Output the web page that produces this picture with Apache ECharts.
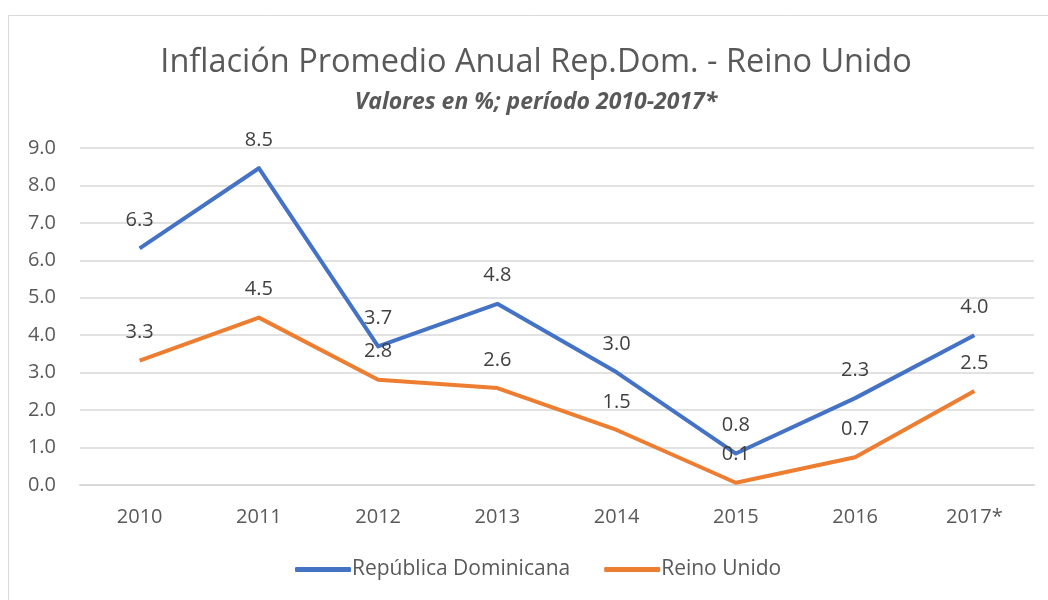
<!doctype html>
<html>
<head>
    <meta charset="utf-8">
    <title>Inflación Promedio Anual</title>
    <script src="https://cdn.jsdelivr.net/npm/echarts@6/dist/echarts.min.js"></script>
</head>
<style>
    html, body { margin: 0; padding: 0; background: #fff; }
    #chart { width: 1048px; height: 600px; }
</style>
<body>
<div id="chart"></div>
<script>
  var years = ['2010', '2011', '2012', '2013', '2014', '2015', '2016', '2017*'];
  var repDom = [6.32, 8.46, 3.70, 4.84, 3.01, 0.84, 2.32, 4.00];
  var reinoUnido = [3.32, 4.47, 2.81, 2.59, 1.47, 0.06, 0.74, 2.51];
  var seriesNames = ['República Dominicana', 'Reino Unido'];

  var font = '"Open Sans", "Noto Sans", sans-serif';
  var myChart = echarts.init(document.getElementById('chart'));

  function lineSeries(name, data, color) {
    return {
      name: name,
      type: 'line',
      data: data,
      symbol: 'circle',
      symbolSize: 0,
      showSymbol: true,
      lineStyle: { width: 4, color: color, join: 'round' },
      itemStyle: { color: color },
      label: {
        show: true,
        position: 'top',
        distance: 18,
        color: '#404040',
        fontSize: 20,
        fontFamily: font,
        formatter: function (p) { return p.value.toFixed(1); }
      }
    };
  }

  myChart.setOption({
    animation: false,
    graphic: [{
      type: 'rect',
      shape: { x: 8.5, y: 15.5, width: 1060, height: 620 },
      style: { fill: 'none', stroke: '#d9d9d9', lineWidth: 1 }
    }],
    title: {
      text: 'Inflación Promedio Anual Rep.Dom. - Reino Unido',
      subtext: 'Valores en %; período 2010-2017*',
      left: 531,
      textAlign: 'center',
      top: 41,
      itemGap: 12,
      textStyle: { fontSize: 32.5, fontWeight: 'normal', color: '#595959', fontFamily: font },
      subtextStyle: { fontSize: 23, fontWeight: 'bold', fontStyle: 'italic', color: '#595959', fontFamily: font }
    },
    legend: {
      data: seriesNames,
      bottom: 15,
      left: 290,
      itemWidth: 56,
      itemHeight: 5,
      itemGap: 34,
      icon: 'roundRect',
      textStyle: { fontSize: 21, color: '#595959', fontFamily: font, padding: [0, 0, 0, -4] }
    },
    grid: { left: 80, right: 14, top: 148, bottom: 115 },
    xAxis: {
      type: 'category',
      data: years,
      boundaryGap: true,
      axisLine: { lineStyle: { color: '#d9d9d9', width: 2 } },
      axisTick: { show: false },
      axisLabel: { color: '#595959', fontSize: 20, fontFamily: font, margin: 22 }
    },
    yAxis: {
      type: 'value',
      min: 0,
      max: 9,
      interval: 1,
      axisLine: { show: false },
      axisTick: { show: false },
      splitLine: { lineStyle: { color: '#d9d9d9', width: 1.5 } },
      axisLabel: {
        color: '#595959', fontSize: 20, fontFamily: font, margin: 24,
        formatter: function (v) { return v.toFixed(1); }
      }
    },
    series: [
      lineSeries(seriesNames[0], repDom, '#4472C4'),
      lineSeries(seriesNames[1], reinoUnido, '#ED7D31')
    ]
  });
</script>
</body>
</html>
